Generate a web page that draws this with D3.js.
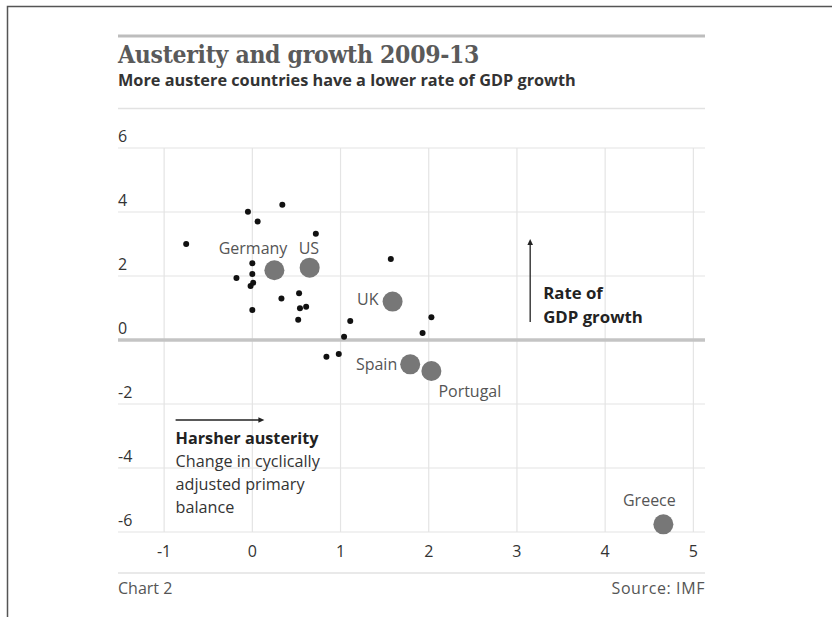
<!DOCTYPE html>
<html>
<head>
<meta charset="utf-8">
<script src="https://cdn.jsdelivr.net/npm/d3@7"></script>
<style>
  html, body { margin: 0; padding: 0; background: #fff; }
  svg { display: block; }
  text { font-family: "Open Sans", Lato, sans-serif; }
</style>
</head>
<body>
<div id="chart"></div>
<script>
// tick values
var xTicks = [-1, 0, 1, 2, 3, 4, 5];
var yTicks = [6, 4, 2, 0, -2, -4, -6];

// other countries (small dots): [austerity, growth]
var otherX = [-0.75, -0.05, 0.34, 0.06, 0.72, 0.0, -0.18, 0.0, 0.01, -0.02, 0.33, 0.53, 0.54, 0.61, 0.0, 0.52, 1.11, 1.04, 1.57, 2.03, 1.93, 0.84, 0.98];
var otherY = [3.0, 4.01, 4.23, 3.70, 3.32, 2.40, 1.94, 2.06, 1.79, 1.69, 1.30, 1.46, 0.99, 1.04, 0.94, 0.63, 0.59, 0.10, 2.53, 0.71, 0.22, -0.52, -0.44];

// named countries (large dots)
var named = ["Germany", "US", "UK", "Spain", "Portugal", "Greece"];
var namedX = [0.25, 0.65, 1.59, 1.79, 2.03, 4.66];
var namedY = [2.18, 2.26, 1.20, -0.76, -0.97, -5.76];

function draw() {
    var W = 832, H = 617;
    var mLeft = 118, mRight = 705, mTop = 148, mBottom = 532;

    var svg = d3.select("#chart").append("svg")
        .attr("width", W)
        .attr("height", H);

    // frame (top and left edges only)
    svg.append("path")
        .attr("d", "M7.5,617V6.5H832")
        .attr("fill", "none")
        .attr("stroke", "#555")
        .attr("stroke-width", 1.5);

    var x = d3.scaleLinear().domain([-1.523, 5.132]).range([mLeft, mRight]);
    var y = d3.scaleLinear().domain([6, -6]).range([mTop, mBottom]);

    // header
    svg.append("line")
        .attr("x1", mLeft).attr("x2", mRight)
        .attr("y1", 36).attr("y2", 36)
        .attr("stroke", "#bdbdbd").attr("stroke-width", 3);

    svg.append("text")
        .attr("x", mLeft).attr("y", 63)
        .style("font-family", "'DejaVu Serif', serif")
        .style("font-stretch", "condensed")
        .style("font-weight", "bold")
        .style("font-size", "24.5px")
        .style("letter-spacing", "-0.3px")
        .attr("fill", "#5a5a5a")
        .text("Austerity and growth 2009-13");

    svg.append("text")
        .attr("x", mLeft).attr("y", 86)
        .style("font-weight", "bold")
        .style("font-size", "16.3px")
        .attr("fill", "#333")
        .text("More austere countries have a lower rate of GDP growth");

    svg.append("line")
        .attr("x1", mLeft).attr("x2", mRight)
        .attr("y1", 108.5).attr("y2", 108.5)
        .attr("stroke", "#e2e2e2").attr("stroke-width", 1.5);

    // grid
    var grid = svg.append("g");
    grid.selectAll(".vg").data(xTicks).enter().append("line")
        .attr("x1", function(d) { return x(d); })
        .attr("x2", function(d) { return x(d); })
        .attr("y1", mTop).attr("y2", mBottom)
        .attr("stroke", "#e4e4e4").attr("stroke-width", 1.2);

    grid.selectAll(".hg").data(yTicks).enter().append("line")
        .attr("x1", mLeft).attr("x2", mRight)
        .attr("y1", function(d) { return y(d); })
        .attr("y2", function(d) { return y(d); })
        .attr("stroke", function(d) { return d === 0 ? "#c4c4c4" : "#e4e4e4"; })
        .attr("stroke-width", function(d) { return d === 0 ? 3.5 : 1.2; });

    // axis labels
    svg.selectAll(".yl").data(yTicks).enter().append("text")
        .attr("x", mLeft)
        .attr("y", function(d) { return y(d) - 6; })
        .style("font-size", "16px")
        .attr("fill", "#333")
        .text(function(d) { return d; });

    svg.selectAll(".xl").data(xTicks).enter().append("text")
        .attr("x", function(d) { return x(d); })
        .attr("y", 557)
        .attr("text-anchor", "middle")
        .style("font-size", "16px")
        .attr("fill", "#333")
        .text(function(d) { return d; });

    // small dots
    var others = otherX.map(function(v, i) { return { x: v, y: otherY[i] }; });
    svg.selectAll(".dot").data(others).enter().append("circle")
        .attr("cx", function(d) { return x(d.x); })
        .attr("cy", function(d) { return y(d.y); })
        .attr("r", 3)
        .attr("fill", "#111");

    // named countries
    var labelPos = {
        Germany:  { anchor: "end",    dx: 13,  dy: -16 },
        US:       { anchor: "start",  dx: -11, dy: -14 },
        UK:       { anchor: "end",    dx: -14, dy: 3 },
        Spain:    { anchor: "end",    dx: -13, dy: 5.5 },
        Portugal: { anchor: "start",  dx: 7,   dy: 26 },
        Greece:   { anchor: "middle", dx: -14, dy: -18 }
    };
    var countries = named.map(function(n, i) { return { name: n, x: namedX[i], y: namedY[i] }; });

    svg.selectAll(".big").data(countries).enter().append("circle")
        .attr("cx", function(d) { return x(d.x); })
        .attr("cy", function(d) { return y(d.y); })
        .attr("r", 10)
        .attr("fill", "#777");

    svg.selectAll(".lab").data(countries).enter().append("text")
        .attr("x", function(d) { return x(d.x) + labelPos[d.name].dx; })
        .attr("y", function(d) { return y(d.y) + labelPos[d.name].dy; })
        .attr("text-anchor", function(d) { return labelPos[d.name].anchor; })
        .style("font-size", "16px")
        .attr("fill", "#555")
        .text(function(d) { return d.name; });

    // annotation: growth arrow
    var ax = x(3.15);
    svg.append("line")
        .attr("x1", ax).attr("x2", ax)
        .attr("y1", y(0.56)).attr("y2", y(3.0))
        .attr("stroke", "#222").attr("stroke-width", 1.3);
    svg.append("path")
        .attr("d", "M" + (ax - 2.8) + "," + (y(3.0) + 1) + "L" + ax + "," + (y(3.0) - 5) + "L" + (ax + 2.8) + "," + (y(3.0) + 1) + "Z")
        .attr("fill", "#222");
    svg.append("text")
        .attr("x", ax + 13).attr("y", 299)
        .style("font-weight", "bold").style("font-size", "16.8px")
        .attr("fill", "#222")
        .text("Rate of");
    svg.append("text")
        .attr("x", ax + 13).attr("y", 323)
        .style("font-weight", "bold").style("font-size", "16.8px")
        .attr("fill", "#222")
        .text("GDP growth");

    // annotation: austerity arrow
    var ay = y(-2.5);
    svg.append("line")
        .attr("x1", x(-0.87)).attr("x2", x(0.08))
        .attr("y1", ay).attr("y2", ay)
        .attr("stroke", "#222").attr("stroke-width", 1.3);
    svg.append("path")
        .attr("d", "M" + (x(0.08) - 1) + "," + (ay - 2.8) + "L" + (x(0.08) + 5) + "," + ay + "L" + (x(0.08) - 1) + "," + (ay + 2.8) + "Z")
        .attr("fill", "#222");

    var noteLines = ["Change in cyclically", "adjusted primary", "balance"];
    svg.append("text")
        .attr("x", x(-0.87)).attr("y", 444)
        .style("font-weight", "bold").style("font-size", "16.2px")
        .attr("fill", "#222")
        .text("Harsher austerity");
    svg.selectAll(".note").data(noteLines).enter().append("text")
        .attr("x", x(-0.87))
        .attr("y", function(d, i) { return 467 + i * 23; })
        .style("font-size", "16.2px")
        .attr("fill", "#333")
        .text(function(d) { return d; });

    // footer
    svg.append("line")
        .attr("x1", mLeft).attr("x2", mRight)
        .attr("y1", 573).attr("y2", 573)
        .attr("stroke", "#e2e2e2").attr("stroke-width", 1.5);
    svg.append("text")
        .attr("x", mLeft).attr("y", 594)
        .style("font-size", "16px")
        .attr("fill", "#555")
        .text("Chart 2");
    svg.append("text")
        .attr("x", mRight).attr("y", 594)
        .attr("text-anchor", "end")
        .style("font-size", "16px")
        .style("letter-spacing", "0.6px")
        .attr("fill", "#555")
        .text("Source: IMF");
}

draw();
</script>
</body>
</html>
